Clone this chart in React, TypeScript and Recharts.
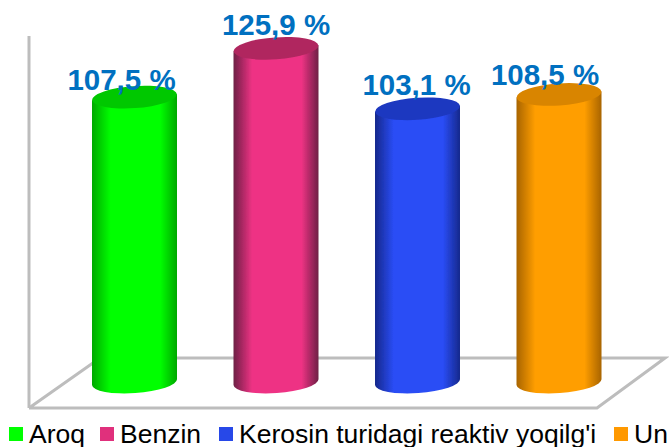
import React from 'react';
import { BarChart, Bar, XAxis, YAxis, Legend, LabelList } from 'recharts';

const seriesNames = ['Aroq', 'Benzin', "Kerosin turidagi reaktiv yoqilg'i", 'Un'];
const seriesValues = [107.5, 125.9, 103.1, 108.5];
const valueLabels = ['107,5 %', '125,9 %', '103,1 %', '108,5 %'];
const legendColors = ['#00FF00', '#E0307C', '#2748E8', '#FF9900'];
const mainColors = ['#00FF00', '#EE3384', '#2A4DF5', '#FF9E00'];
const edgeColors = ['#00A800', '#6E1F45', '#16288C', '#A86400'];
const capColors = ['#00C800', '#B0285F', '#1E38C0', '#D98500'];
const labelShift = [-13, 0, -1, -14];
const labelLift = [7, 13, 14, 9];

const row: Record<string, number | string> = { name: 'all' };
seriesNames.forEach((n, i) => { row[n] = seriesValues[i]; });
const data = [row];

const Cylinder = (i: number) => (props: any) => {
  const { x, y, width, height } = props;
  const rx = width / 2;
  const ry = 11;
  const cx = x + rx;
  const bottom = y + height;
  return (
    <g filter="url(#soft)">
      <path d={`M${x},${y + 3} L${x},${bottom + 3} A${rx},${ry} -4 0 0 ${x + width},${bottom - 3} L${x + width},${y - 3} Z`} fill={`url(#cyl${i})`} />
      <ellipse cx={cx} cy={y} rx={rx} ry={ry} transform={`rotate(-4 ${cx} ${y})`} fill={capColors[i]} />
    </g>
  );
};

const legendGaps = [15, 18, 18, 0];

const LegendRow = () => (
  <div style={{ display: 'flex', alignItems: 'center', whiteSpace: 'nowrap', fontFamily: '"Liberation Sans", Arial, sans-serif', fontSize: 26.5, color: '#000', height: 30 }}>
    {seriesNames.map((n, i) => (
      <span key={n} style={{ display: 'inline-flex', alignItems: 'center', marginRight: legendGaps[i] }}>
        <span style={{ width: 14, height: 14, background: legendColors[i], display: 'inline-block', marginRight: 6 }} />
        {n}
      </span>
    ))}
  </div>
);

export default function App() {
  return (
    <div style={{ position: 'absolute', left: 0, top: 0, width: 669, height: 447, overflow: 'hidden', background: '#fff' }}>
      <svg width={669} height={447} style={{ position: 'absolute', left: 0, top: 0 }}>
        <g fill="none" stroke="#BDBDBD" strokeWidth={3}>
          <path d="M29,36 L29,408" />
          <path d="M29,408 L597,408 L665,358 L100,358 L29,408" />
        </g>
      </svg>
      <BarChart
        width={669}
        height={447}
        data={data}
        margin={{ top: 11, right: 67, bottom: 35, left: 92 }}
        barCategoryGap={0}
        barGap={56.5}
        barSize={85}
        style={{ position: 'absolute', left: 0, top: 0 }}
      >
        <defs>
          <filter id="soft" x="-5%" y="-5%" width="110%" height="110%">
            <feGaussianBlur stdDeviation="0.7" />
          </filter>
          {mainColors.map((c, i) => (
            <linearGradient key={c} id={`cyl${i}`} x1="0" y1="0" x2="1" y2="0">
              <stop offset="0" stopColor={edgeColors[i]} />
              <stop offset="0.22" stopColor={c} />
              <stop offset="0.8" stopColor={c} />
              <stop offset="1" stopColor={edgeColors[i]} />
            </linearGradient>
          ))}
        </defs>
        <XAxis dataKey="name" hide />
        <YAxis hide domain={[0, 140]} />
        <Legend
          content={<LegendRow />}
          wrapperStyle={{ position: 'absolute', left: 9, top: 419, width: 660, bottom: 'auto', overflow: 'hidden' }}
        />
        {seriesNames.map((n, i) => (
          <Bar key={n} dataKey={n} fill={mainColors[i]} isAnimationActive={false} shape={Cylinder(i)}>
            <LabelList
              dataKey={n}
              position="top"
              offset={labelLift[i]}
              dx={labelShift[i]}
              formatter={() => valueLabels[i]}
              style={{ fontFamily: '"Liberation Sans", Arial, sans-serif', fontWeight: 700, fontSize: 29.5, fill: '#0070C0' }}
            />
          </Bar>
        ))}
      </BarChart>
    </div>
  );
}
